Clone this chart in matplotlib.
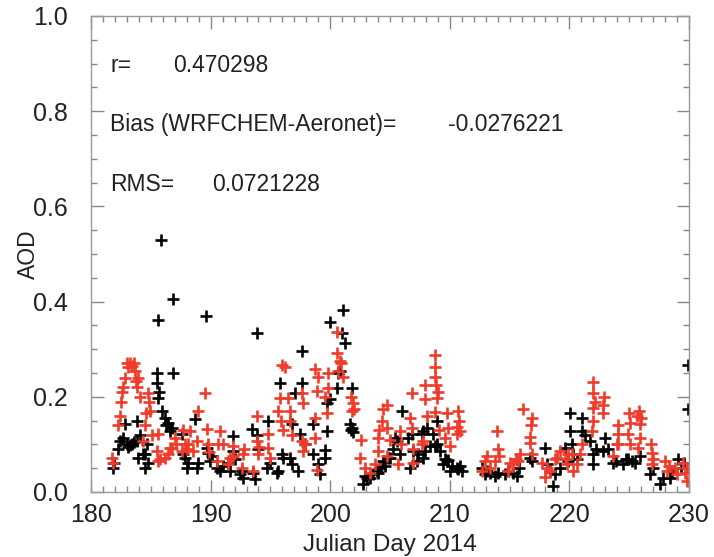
import matplotlib
matplotlib.use("Agg")
import matplotlib.pyplot as plt
from matplotlib.ticker import MultipleLocator

plt.rcParams['font.family'] = ['Liberation Sans', 'DejaVu Sans']

# Aeronet observations (black)
aer_day = [181.84, 181.9, 182.26, 182.42, 182.68, 182.84, 183.0, 183.09, 183.26, 183.43, 183.6, 183.85, 183.85, 183.93, 184.1,
           184.35, 184.52, 184.52, 184.68, 184.77,
           185.52, 185.55, 185.6, 185.6, 185.65, 185.85, 185.94, 186.19, 186.3, 186.44, 186.61, 186.77, 186.86, 186.86,
           187.61, 187.69, 187.86, 188.03, 188.11,
           188.7, 188.86, 188.95, 189.62, 189.7, 189.78, 189.95, 190.1,
           190.54, 190.79, 191.0, 191.45, 191.62, 191.87, 191.87, 192.0,
           192.46, 192.63, 192.71, 193.46, 193.55, 193.71, 193.88, 193.88, 193.96,
           194.72, 194.8, 194.97, 195.55, 195.64, 195.8, 195.97, 196.05,
           196.64, 196.81, 196.81, 197.06, 197.31, 197.47, 197.64, 197.64, 197.89,
           198.56, 198.56, 198.98, 199.15, 199.57, 199.57, 199.73, 199.73,
           199.98, 199.98, 200.57, 200.65, 200.82, 200.99, 201.07, 201.24, 201.66, 201.75, 201.82, 201.82, 201.9,
           202.74, 202.91, 203.1, 203.33, 203.58, 203.91, 204.0, 204.16,
           204.41, 204.58, 204.83, 205.0, 205.25, 205.42, 205.59, 205.84, 206.0,
           206.51, 206.67, 206.84, 206.92, 207.26, 207.34, 207.68, 207.76, 207.76, 207.93, 208.09,
           208.34, 208.6, 208.76, 208.93, 208.93, 209.18, 209.43,
           209.6, 209.77, 209.85, 210.02, 210.2, 210.6, 210.69, 210.85, 211.02,
           212.69, 212.94, 213.1, 213.36, 213.78, 214.03,
           214.62, 214.87, 215.28, 215.62, 215.8,
           216.71, 216.87, 217.96, 218.13, 218.38, 218.63, 218.8,
           219.21, 219.63, 219.88, 220.05, 220.05, 220.22, 220.3,
           220.64, 221.05, 221.05, 221.3, 221.72, 221.97, 221.97, 222.2,
           222.81, 222.98, 223.2, 223.65, 223.9,
           224.48, 224.7, 224.9, 225.2, 225.5, 225.9,
           226.74, 227.0, 227.58, 227.8, 228.41, 228.6,
           229.08, 229.3, 229.6, 229.92, 229.92]
aer_aod = [0.051, 0.06, 0.09, 0.108, 0.114, 0.143, 0.10, 0.095, 0.098, 0.101, 0.105, 0.15, 0.108, 0.072, 0.12,
           0.08, 0.08, 0.051, 0.101, 0.06,
           0.249, 0.228, 0.361, 0.198, 0.21, 0.529, 0.171, 0.156, 0.14, 0.146, 0.129, 0.135, 0.405, 0.249,
           0.122, 0.08, 0.072, 0.05, 0.06,
           0.154, 0.051, 0.06, 0.369, 0.093, 0.082, 0.065, 0.075,
           0.05, 0.044, 0.055, 0.06, 0.044, 0.118, 0.086, 0.07,
           0.038, 0.045, 0.03, 0.133, 0.04, 0.027, 0.333, 0.12, 0.09,
           0.051, 0.15, 0.06, 0.04, 0.045, 0.228, 0.08, 0.072,
           0.072, 0.143, 0.059, 0.207, 0.044, 0.122, 0.297, 0.228, 0.101,
           0.143, 0.08, 0.059, 0.038, 0.089, 0.072, 0.186, 0.129,
           0.357, 0.196, 0.219, 0.251, 0.255, 0.333, 0.382, 0.314, 0.143, 0.13, 0.135, 0.219, 0.125,
           0.017, 0.034, 0.03, 0.03, 0.038, 0.044, 0.04, 0.05,
           0.065, 0.055, 0.072, 0.072, 0.091, 0.114, 0.108, 0.08, 0.171,
           0.114, 0.051, 0.122, 0.086, 0.065, 0.08, 0.122, 0.129, 0.072, 0.086, 0.135,
           0.097, 0.122, 0.097, 0.15, 0.101, 0.086, 0.059,
           0.07, 0.065, 0.068, 0.044, 0.055, 0.051, 0.049, 0.055, 0.045,
           0.05, 0.038, 0.045, 0.04, 0.034, 0.04,
           0.038, 0.045, 0.04, 0.034, 0.05,
           0.072, 0.065, 0.093, 0.059, 0.045, 0.013, 0.038,
           0.05, 0.093, 0.065, 0.167, 0.129, 0.10, 0.08,
           0.07, 0.156, 0.129, 0.12, 0.108, 0.08, 0.059, 0.09,
           0.086, 0.114, 0.09, 0.061, 0.065,
           0.059, 0.07, 0.07, 0.065, 0.06, 0.076,
           0.038, 0.05, 0.017, 0.03, 0.03, 0.045,
           0.07, 0.05, 0.06, 0.266, 0.175]

# WRF-Chem model (red)
wrf_day = [181.76, 181.84,
           182.26, 182.42, 182.5, 182.59, 182.68, 182.84, 183.01, 183.09, 183.26, 183.43, 183.6, 183.68, 183.77, 183.85, 183.93, 184.1,
           184.35, 184.52, 184.6, 184.77, 184.85, 184.93, 185.1,
           185.52, 185.6, 185.6, 185.8, 186.19, 186.4, 186.61, 186.77, 187.02, 187.1,
           187.61, 187.69, 187.86, 188.03, 188.11, 188.28,
           188.53, 188.86, 188.95, 189.53, 189.7, 189.78, 189.9,
           190.54, 190.62, 190.79, 191.0, 191.45, 191.62, 191.87, 191.9,
           192.63, 192.71, 192.8, 193.55, 193.88, 193.88, 193.96, 194.05,
           194.8, 194.8, 194.97, 195.64, 195.8, 195.97, 196.05, 195.9,
           196.22, 196.47, 196.64, 196.64, 196.81, 197.64, 197.73, 197.64, 197.73, 197.9,
           198.73, 198.73, 198.98, 198.9, 198.73, 198.9, 199.82, 199.82, 199.73, 199.6,
           200.57, 200.57, 200.82, 201.07, 200.65, 200.9, 201.91, 201.82, 201.75, 202.0,
           202.49, 202.6, 202.91, 203.33, 203.75, 204.0, 204.0, 204.1, 204.41, 204.3,
           204.75, 204.75, 204.75, 205.0, 205.67, 205.84, 205.9, 206.67, 206.84, 206.84, 206.92, 206.95,
           207.68, 207.76, 207.93, 207.93, 208.1, 208.76, 208.76, 208.76, 208.85, 208.93, 208.76, 209.0, 209.1,
           209.6, 209.77, 209.85, 210.02, 210.6, 210.69, 210.8, 210.85, 210.6,
           212.69, 212.94, 213.1, 213.36, 213.78, 213.95, 214.03, 214.1,
           214.87, 215.0, 215.28, 215.5, 215.7, 215.9, 216.12,
           216.71, 216.71, 216.87, 216.8, 216.9,
           217.71, 217.96, 218.13, 218.38, 218.8, 218.96, 219.21,
           219.63, 219.8, 219.88, 220.22, 220.3, 220.64, 220.89, 221.05,
           221.89, 221.97, 221.97, 221.97, 221.97, 222.1, 222.81, 222.81, 222.9,
           223.65, 223.98, 224.06, 224.06, 224.1,
           224.9, 225.07, 225.07, 225.0, 225.65, 225.74, 225.9, 225.9, 225.8, 226.0,
           226.91, 226.91, 226.8, 227.0,
           228.0, 228.16, 228.3, 228.99, 228.8,
           229.5, 229.83, 229.83, 229.7]
wrf_aod = [0.072, 0.06,
           0.14, 0.16, 0.19, 0.21, 0.22, 0.24, 0.27, 0.262, 0.27, 0.265, 0.27, 0.255, 0.234, 0.22, 0.24, 0.2,
           0.108, 0.14, 0.165, 0.207, 0.19, 0.171, 0.12,
           0.086, 0.122, 0.065, 0.07, 0.072, 0.08, 0.093, 0.093, 0.114, 0.1,
           0.086, 0.13, 0.1, 0.09, 0.101, 0.129,
           0.086, 0.108, 0.171, 0.207, 0.133, 0.101, 0.085,
           0.065, 0.101, 0.129, 0.1, 0.059, 0.072, 0.097, 0.075,
           0.051, 0.08, 0.09, 0.044, 0.16, 0.108, 0.08, 0.095,
           0.122, 0.093, 0.072, 0.171, 0.198, 0.266, 0.13, 0.15,
           0.262, 0.198, 0.171, 0.15, 0.12, 0.207, 0.186, 0.108, 0.086, 0.1,
           0.114, 0.259, 0.241, 0.213, 0.156, 0.046, 0.249, 0.219, 0.165, 0.2,
           0.336, 0.291, 0.276, 0.241, 0.255, 0.27, 0.186, 0.171, 0.2, 0.175,
           0.072, 0.11, 0.051, 0.04, 0.059, 0.114, 0.086, 0.13, 0.175, 0.15,
           0.183, 0.135, 0.076, 0.11, 0.059, 0.129, 0.1, 0.156, 0.207, 0.135, 0.061, 0.09,
           0.101, 0.108, 0.225, 0.196, 0.16, 0.287, 0.262, 0.241, 0.225, 0.198, 0.168, 0.21, 0.13,
           0.114, 0.165, 0.135, 0.097, 0.137, 0.171, 0.15, 0.129, 0.122,
           0.044, 0.065, 0.075, 0.051, 0.065, 0.129, 0.091, 0.075,
           0.044, 0.06, 0.059, 0.07, 0.065, 0.08, 0.175,
           0.103, 0.116, 0.08, 0.14, 0.155,
           0.06, 0.032, 0.05, 0.044, 0.07, 0.072, 0.086,
           0.07, 0.059, 0.08, 0.08, 0.044, 0.059, 0.08, 0.101,
           0.129, 0.231, 0.207, 0.177, 0.15, 0.19, 0.183, 0.165, 0.2,
           0.076, 0.101, 0.122, 0.14, 0.1,
           0.122, 0.146, 0.101, 0.165, 0.16, 0.093, 0.114, 0.143, 0.17, 0.155,
           0.082, 0.059, 0.1, 0.07,
           0.065, 0.044, 0.055, 0.038, 0.05,
           0.06, 0.051, 0.023, 0.04]

stat_names = ["r=", "Bias (WRFCHEM-Aeronet)=", "RMS="]
stat_values = ["0.470298", "-0.0276221", "0.0721228"]
stat_value_x = [186.86, 209.85, 190.12]
stat_y = [0.897, 0.772, 0.646]

fig = plt.figure(figsize=(7.14, 5.57), dpi=100)
ax = fig.add_axes([0.1275, 0.1167, 0.8375, 0.8546])

ax.plot(aer_day, aer_aod, linestyle='none', marker='+', color='black',
        markersize=8.5, markeredgewidth=1.9)
ax.plot(wrf_day, wrf_aod, linestyle='none', marker='+', color='#ee3b2b',
        markersize=8.5, markeredgewidth=1.9)

ax.set_xlim(180, 230)
ax.set_ylim(0, 1.0)
ax.xaxis.set_major_locator(MultipleLocator(10))
ax.xaxis.set_minor_locator(MultipleLocator(1))
ax.yaxis.set_major_locator(MultipleLocator(0.2))
ax.yaxis.set_minor_locator(MultipleLocator(0.05))
ax.yaxis.set_major_formatter(plt.FuncFormatter(lambda v, p: f"{v:.1f}"))

ax.tick_params(which='both', direction='in', top=True, right=True, colors='#888888',
               labelcolor='#222222', labelsize=18, width=1)
ax.tick_params(which='major', length=9)
ax.tick_params(axis='x', which='major', pad=8)
ax.tick_params(axis='y', which='major', pad=17)
ax.tick_params(which='minor', length=4)
for s in ax.spines.values():
    s.set_color('#999999')
    s.set_linewidth(1)

ax.set_xlabel("Julian Day 2014", fontsize=17.5, color='#222222', labelpad=5)
ax.set_ylabel("AOD", fontsize=16.5, color='#222222')
ax.yaxis.set_label_coords(-0.085, 0.5)

for name, val, vx, yy in zip(stat_names, stat_values, stat_value_x, stat_y):
    ax.text(181.6, yy, name, fontsize=16.5, color='#222222', va='center', ha='left')
    ax.text(vx, yy, val, fontsize=16.5, color='#222222', va='center', ha='left')

fig.savefig("out.png", dpi=100)
